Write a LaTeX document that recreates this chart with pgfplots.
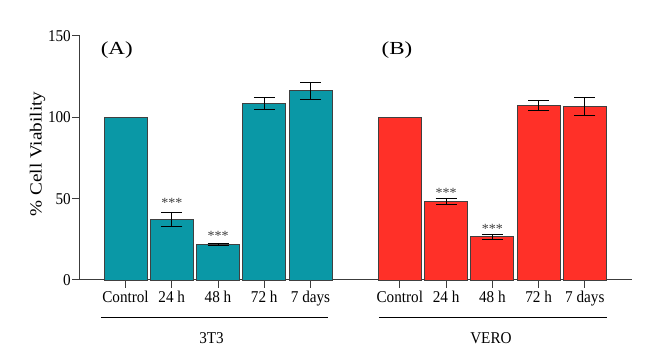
\documentclass[border=0pt]{standalone}
\usepackage{fontspec}
\setmainfont{Liberation Serif}
\newfontfamily\tickfont[FakeStretch=0.92]{Liberation Serif}
\newfontfamily\ylabfont[FakeStretch=1.13]{Liberation Serif}
\newfontfamily\panelfont[FakeStretch=1.25]{Liberation Serif}
\usepackage{pgfplots}
\pgfplotsset{compat=1.18}
\definecolor{tealbar}{RGB}{10,152,166}
\definecolor{redbar}{RGB}{255,48,40}
\definecolor{axgray}{RGB}{60,60,60}
\pgfplotsset{myerr/.style={
  error bars/y dir=both, error bars/y explicit,
  error bars/error mark options={rotate=90, mark size=10.5pt, line width=1pt, black},
  error bars/error bar style={line width=1pt, black}}}
\begin{document}
\begin{tikzpicture}
\path[use as bounding box, fill=white] (0,0) rectangle (661pt,350pt);
\begin{axis}[
  at={(80pt,70pt)}, anchor=south west,
  width=552pt, height=244pt, scale only axis,
  xmin=-0.984, xmax=10.95, ymin=0, ymax=150,
  axis lines*=left,
  axis line style={draw=axgray, line width=1pt},
  tick style={draw=axgray, line width=1pt},
  major tick length=8pt,
  tick align=outside,
  ytick={0,50,100,150},
  xtick={0,1,2,3,4,5.93,6.93,7.93,8.93,9.93},
  xticklabels={Control,24 h,48 h,72 h,7 days,Control,24 h,48 h,72 h,7 days},
  /pgf/number format/assume math mode=true,
  ticklabel style={font=\tickfont\fontsize{16.5}{16.5}\selectfont},
  xticklabel style={inner sep=3pt},
  yticklabel style={inner sep=1pt},
  ylabel={\% Cell Viability},
  ylabel style={font=\ylabfont\fontsize{17}{17}\selectfont, at={(axis description cs:0,0.5)}, yshift=42.5pt, xshift=4pt, anchor=center},
  clip=false,
]
\addplot[ybar, bar width=0.93, bar shift=0pt, fill=tealbar, draw=black!75, line width=0.9pt]
  coordinates {(0,100)};
\addplot[ybar, bar width=0.93, bar shift=0pt, fill=tealbar, draw=black!75, line width=0.9pt, myerr]
  coordinates {(1,37.2) +- (0,4.6) (2,21.9) +- (0,0.45) (3,108.6) +- (0,3.7) (4,116.4) +- (0,5.2)};
\addplot[ybar, bar width=0.93, bar shift=0pt, fill=redbar, draw=black!75, line width=0.9pt]
  coordinates {(5.93,100)};
\addplot[ybar, bar width=0.93, bar shift=0pt, fill=redbar, draw=black!75, line width=0.9pt, myerr]
  coordinates {(6.93,48.4) +- (0,2.0) (7.93,26.6) +- (0,1.4) (8.93,107.1) +- (0,3.2) (9.93,106.4) +- (0,5.5)};
\addplot[draw=none, mark=none, nodes near coords={***},
  nodes near coords style={anchor=center, font=\fontsize{14}{14}\selectfont, text=black!75}]
  coordinates {(1,47.3) (2,27.0) (6.93,53.4) (7.93,31.3)};
\draw[line width=1pt, black] (axis cs:-0.53,-23) -- (axis cs:4.38,-23);
\draw[line width=1pt, black] (axis cs:5.48,-23) -- (axis cs:10.41,-23);
\node[font=\tickfont\fontsize{16.5}{16.5}\selectfont] at (axis cs:1.86,-35.6) {3T3};
\node[font=\tickfont\fontsize{16.5}{16.5}\selectfont] at (axis cs:7.9,-35.6) {VERO};
\node[font=\panelfont\fontsize{18.4}{18.4}\selectfont] at (axis cs:-0.19,141.6) {(A)};
\node[font=\panelfont\fontsize{18.4}{18.4}\selectfont] at (axis cs:5.87,141.6) {(B)};
\end{axis}
\end{tikzpicture}
\end{document}
